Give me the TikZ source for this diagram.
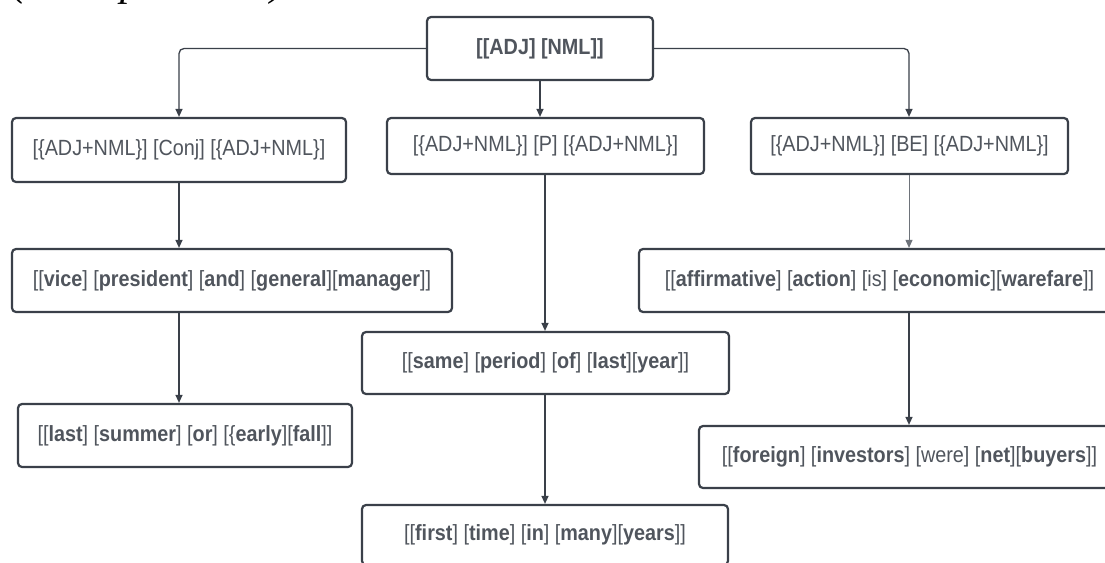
\documentclass[tikz,border=0pt]{standalone}
\usepackage{fontspec}
\setmainfont{Liberation Sans}[FakeStretch=0.9]
\newfontfamily\capfont{Liberation Serif}
\usetikzlibrary{arrows.meta}
\definecolor{boxc}{HTML}{3A4049}
\definecolor{txt}{HTML}{50555D}
\definecolor{thinc}{HTML}{6E737A}
\tikzset{
  treebox/.style={draw=boxc, line width=2.2pt, rounded corners=4pt, fill=white,
    text=txt, inner sep=0pt, font=\fontsize{22}{26}\selectfont, align=center},
  conn/.style={draw=boxc, line width=1.3pt, rounded corners=5pt,
    -{Triangle[length=8pt,width=7pt]}},
  thinconn/.style={conn, draw=thinc, line width=0.9pt},
}
\newcommand{\bw}[1]{\textbf{#1}}
\begin{document}
\begin{tikzpicture}[x=1pt,y=-1pt]
\useasboundingbox (0,0) rectangle (1105,562);
\clip (0,0) rectangle (1105,562);
\fill[white] (0,0) rectangle (1105,562);

\node[anchor=base west, inner sep=0pt, text=black,
  font=\capfont\itshape\fontsize{42}{46}\selectfont] (cap) at (12,-5) {(no implication)};

\node[treebox, minimum width=226pt, minimum height=63pt] (top) at (540,48.5) {\bw{[[ADJ] [NML]]}};

\node[treebox, minimum width=334pt, minimum height=64pt] (L2) at (179,150) {[\{ADJ+NML\}] [Conj] [\{ADJ+NML\}]};
\node[treebox, minimum width=317pt, minimum height=56pt] (M2) at (545.5,146) {[\{ADJ+NML\}] [P] [\{ADJ+NML\}]};
\node[treebox, minimum width=317pt, minimum height=56pt] (R2) at (909.5,146) {[\{ADJ+NML\}] [BE] [\{ADJ+NML\}]};

\node[treebox, minimum width=440pt, minimum height=63pt] (L3) at (232,280.5)
  {[[\bw{vice}] [\bw{president}] [\bw{and}] [\bw{general}][\bw{manager}]]};
\node[treebox, minimum width=481pt, minimum height=63pt] (R3) at (879.5,280.5)
  {[[\bw{affirmative}] [\bw{action}] [is] [\bw{economic}][\bw{warefare}]]};
\node[treebox, minimum width=367pt, minimum height=62pt] (M3) at (545.5,363)
  {[[\bw{same}] [\bw{period}] [\bw{of}] [\bw{last}][\bw{year}]]};
\node[treebox, minimum width=334pt, minimum height=63pt] (L4) at (185,435.5)
  {[[\bw{last}] [\bw{summer}] [\bw{or}] [\{\bw{early}][\bw{fall}]]};
\node[treebox, minimum width=421pt, minimum height=62pt] (R4) at (909.5,457)
  {[[\bw{foreign}] [\bw{investors}] [were] [\bw{net}][\bw{buyers}]]};
\node[treebox, minimum width=366pt, minimum height=60pt] (M4) at (545,535)
  {[[\bw{first}] [\bw{time}] [\bw{in}] [\bw{many}][\bw{years}]]};

\coordinate (xL) at (179,0);
\coordinate (xM) at (545,0);
\coordinate (xR) at (909,0);

\draw[conn] (top.west) -| (L2.north -| xL);
\draw[conn] (top.south) -- (M2.north -| top.south);
\draw[conn] (top.east) -| (R2.north -| xR);
\draw[conn] (L2.south -| xL) -- (L3.north -| xL);
\draw[conn] (M2.south -| xM) -- (M3.north -| xM);
\draw[thinconn] (R2.south -| xR) -- (R3.north -| xR);
\draw[conn] (L3.south -| xL) -- (L4.north -| xL);
\draw[conn] (M3.south -| xM) -- (M4.north -| xM);
\draw[conn] (R3.south -| xR) -- (R4.north -| xR);
\end{tikzpicture}
\end{document}
